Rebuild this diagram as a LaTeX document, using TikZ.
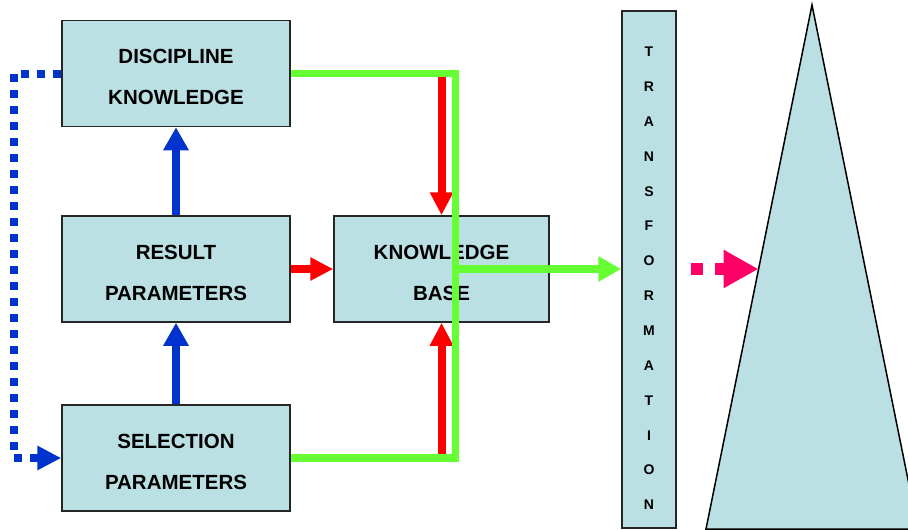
\documentclass[tikz,border=0pt]{standalone}
\usepackage{fontspec}
\setmainfont{Liberation Sans}
\usetikzlibrary{arrows.meta}
\definecolor{boxfill}{HTML}{BBE0E3}
\definecolor{cgreen}{HTML}{66FF33}
\definecolor{cblue}{HTML}{0033CC}
\definecolor{cred}{HTML}{FF0000}
\definecolor{cpink}{HTML}{FF0066}
\newcommand{\tallstrut}{\rule{0pt}{21.7pt}}
\tikzset{
  box/.style={draw=black!85, line width=1.5pt, fill=boxfill, minimum width=228pt, minimum height=106pt,
    inner sep=0pt, align=center, font=\fontsize{20.5}{41}\selectfont\bfseries},
  letter/.style={inner sep=0pt, font=\fontsize{14}{14}\selectfont\bfseries},
  bluearrow/.style={cblue, line width=8pt, -{Triangle[length=23pt,width=24pt]}},
  redarrow/.style={cred, line width=8pt, -{Triangle[length=23pt,width=22pt]}},
  greenline/.style={cgreen, line width=7.5pt, line join=miter},
  greenarrow/.style={cgreen, line width=7.5pt, -{Triangle[length=23pt,width=24pt]}},
  bluedots/.style={cblue, line width=8pt, dash pattern=on 8pt off 8pt, -{Triangle[length=24pt,width=23pt]}},
  pinkdash/.style={cpink, line width=12pt, dash pattern=on 12pt off 12pt, -{Triangle[length=35pt,width=36pt]}},
}
\begin{document}
\begin{tikzpicture}[x=1pt,y=-1pt]
\useasboundingbox (0,0) rectangle (908,530);
\begin{scope}
\clip (0,0) rectangle (908,530);
% triangle
\coordinate (apex) at (812,5);
\coordinate (bl) at (706,529);
\coordinate (br) at (918,529);
\draw[fill=boxfill, line width=1.5pt, line join=miter] (apex) -- (bl) -- (br) -- cycle;
\end{scope}
\coordinate (tri) at (758.5,269);

% boxes
\node[box] (dk) at (176,73.5) {\tallstrut DISCIPLINE\\KNOWLEDGE};
\node[box] (rp) at (176,269) {\tallstrut RESULT\\PARAMETERS};
\node[box] (sp) at (176,458) {\tallstrut SELECTION\\PARAMETERS};
\node[box, minimum width=215pt] (kb) at (441.5,269) {\tallstrut KNOWLEDGE\\BASE};

% transformation bar
\node[draw=black!85, line width=1.5pt, fill=boxfill, minimum width=54pt, minimum height=517pt, inner sep=0pt] (bar) at (649,269.5) {};
\foreach \l [count=\i] in {T,R,A,N,S,F,O,R,M,A,T,I,O,N}
  \node[letter] (l\i) at (649,{51.7+34.87*(\i-1)}) {\l};

% blue arrows
\draw[bluearrow] (rp.north) -- (dk.south);
\draw[bluearrow] (sp.north) -- (rp.south);

% blue dotted loop
\coordinate (c1) at (14,73.5);
\coordinate (c2) at (14,458);
\draw[bluedots] (dk.west) -- (c1) -- (c2) -- (sp.west);

% red arrows
\draw[redarrow] (rp.east) -- (kb.west);
\coordinate (rtop) at (441.5,77);
\coordinate (rbot) at (441.5,454);
\draw[redarrow] (rtop) -- (kb.north);
\draw[redarrow] (rbot) -- (kb.south);

% green
\coordinate (g1) at (455.7,73.5);
\coordinate (g2) at (455.7,458);
\coordinate (gm) at (455.7,269);
\draw[greenline] (dk.east) -- (g1) -- (g2) -- (sp.east);
\draw[greenarrow] (gm) -- (bar.west |- gm);

% pink
\coordinate (p0) at (691,269);
\draw[pinkdash] (p0) -- (tri);
\end{tikzpicture}
\end{document}
